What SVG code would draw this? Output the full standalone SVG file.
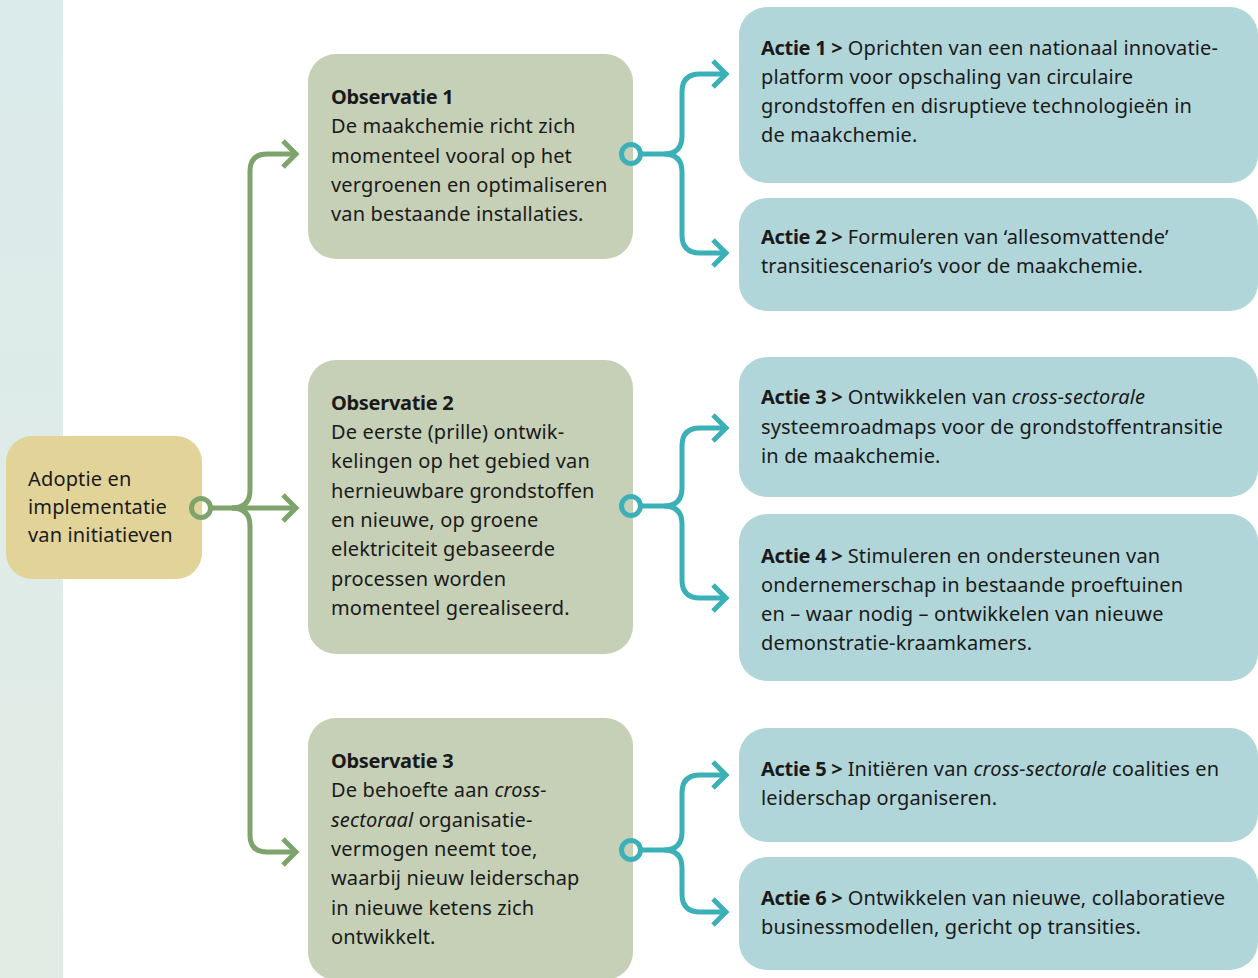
<svg xmlns="http://www.w3.org/2000/svg" width="1258" height="978" viewBox="0 0 1258 978">
<defs>
<linearGradient id="strip" x1="0" y1="0" x2="0" y2="1">
<stop offset="0" stop-color="#dbebeb"/>
<stop offset="1" stop-color="#e2ece5"/>
</linearGradient>
</defs>
<style>
text{font-family:"Noto Sans","Open Sans","DejaVu Sans",sans-serif;font-size:20px;letter-spacing:0.15px;fill:#1a1a1a}
.b{font-weight:bold;letter-spacing:-0.3px}
.i{font-style:italic}
.obs{fill:#c6d0b6}
.act{fill:#b0d6d9}
.root{fill:#e2d398}
.g{fill:none;stroke:#7fa36c;stroke-width:5}
.t{fill:none;stroke:#3bb0b6;stroke-width:5}
</style>
<rect x="0" y="0" width="63" height="978" fill="url(#strip)"/>

<g id="root">
<rect class="root" x="6" y="436" width="196" height="143" rx="26"/>
<text x="28" y="486">Adoptie en</text>
<text x="28" y="514">implementatie</text>
<text x="28" y="542">van initiatieven</text>
</g>

<g id="obs1">
<rect class="obs" x="308" y="54" width="325" height="205" rx="28"/>
<text x="331" y="104" class="b">Observatie 1</text>
<text x="331" y="133">De maakchemie richt zich</text>
<text x="331" y="163">momenteel vooral op het</text>
<text x="331" y="192">vergroenen en optimaliseren</text>
<text x="331" y="221">van bestaande installaties.</text>
</g>

<g id="obs2">
<rect class="obs" x="308" y="360" width="325" height="294" rx="28"/>
<text x="331" y="410" class="b">Observatie 2</text>
<text x="331" y="439">De eerste (prille) ontwik-</text>
<text x="331" y="468">kelingen op het gebied van</text>
<text x="331" y="498">hernieuwbare grondstoffen</text>
<text x="331" y="527">en nieuwe, op groene</text>
<text x="331" y="556">elektriciteit gebaseerde</text>
<text x="331" y="586">processen worden</text>
<text x="331" y="615">momenteel gerealiseerd.</text>
</g>

<g id="obs3">
<rect class="obs" x="308" y="718" width="325" height="262" rx="28"/>
<text x="331" y="768" class="b">Observatie 3</text>
<text x="331" y="797">De behoefte aan <tspan class="i">cross-</tspan></text>
<text x="331" y="827"><tspan class="i">sectoraal</tspan> organisatie-</text>
<text x="331" y="856">vermogen neemt toe,</text>
<text x="331" y="885">waarbij nieuw leiderschap</text>
<text x="331" y="915">in nieuwe ketens zich</text>
<text x="331" y="944">ontwikkelt.</text>
</g>

<g id="actie1">
<rect class="act" x="739" y="7" width="519" height="176" rx="28"/>
<text x="761" y="55"><tspan class="b">Actie 1 &gt;</tspan> Oprichten van een nationaal innovatie-</text>
<text x="761" y="84">platform voor opschaling van circulaire</text>
<text x="761" y="113">grondstoffen en disruptieve technologieën in</text>
<text x="761" y="142">de maakchemie.</text>
</g>

<g id="actie2">
<rect class="act" x="739" y="198" width="519" height="113" rx="28"/>
<text x="761" y="244"><tspan class="b">Actie 2 &gt;</tspan> Formuleren van ‘allesomvattende’</text>
<text x="761" y="273">transitiescenario’s voor de maakchemie.</text>
</g>

<g id="actie3">
<rect class="act" x="739" y="357" width="519" height="140" rx="28"/>
<text x="761" y="404"><tspan class="b">Actie 3 &gt;</tspan> Ontwikkelen van <tspan class="i">cross-sectorale</tspan></text>
<text x="761" y="434">systeemroadmaps voor de grondstoffentransitie</text>
<text x="761" y="463">in de maakchemie.</text>
</g>

<g id="actie4">
<rect class="act" x="739" y="514" width="519" height="167" rx="28"/>
<text x="761" y="563"><tspan class="b">Actie 4 &gt;</tspan> Stimuleren en ondersteunen van</text>
<text x="761" y="592">ondernemerschap in bestaande proeftuinen</text>
<text x="761" y="621">en – waar nodig – ontwikkelen van nieuwe</text>
<text x="761" y="650">demonstratie-kraamkamers.</text>
</g>

<g id="actie5">
<rect class="act" x="739" y="728" width="519" height="114" rx="28"/>
<text x="761" y="776"><tspan class="b">Actie 5 &gt;</tspan> Initiëren van <tspan class="i">cross-sectorale</tspan> coalities en</text>
<text x="761" y="805">leiderschap organiseren.</text>
</g>

<g id="actie6">
<rect class="act" x="739" y="857" width="519" height="113" rx="28"/>
<text x="761" y="905"><tspan class="b">Actie 6 &gt;</tspan> Ontwikkelen van nieuwe, collaboratieve</text>
<text x="761" y="934">businessmodellen, gericht op transities.</text>
</g>

<g id="connectors">
<circle class="g" cx="201" cy="508" r="9.5"/>
<path class="g" d="M211 508 H295"/>
<path class="g" d="M232 508 Q250 508 250 490 V171 Q250 154 267 154 H295"/>
<path class="g" d="M232 508 Q250 508 250 526 V835 Q250 852 267 852 H295"/>
<path class="g" d="M283 141 L296 154 L283 167"/>
<path class="g" d="M283 495 L296 508 L283 521"/>
<path class="g" d="M283 839 L296 852 L283 865"/>

<circle class="t" cx="631" cy="154" r="9.5"/>
<path class="t" d="M641 154 H664 Q682 154 682 136 V92 Q682 74 700 74 H725"/>
<path class="t" d="M664 154 Q682 154 682 172 V235 Q682 253 700 253 H725"/>
<path class="t" d="M713 61 L726 74 L713 87"/>
<path class="t" d="M713 240 L726 253 L713 266"/>

<circle class="t" cx="631" cy="506" r="9.5"/>
<path class="t" d="M641 506 H664 Q682 506 682 488 V446 Q682 428 700 428 H725"/>
<path class="t" d="M664 506 Q682 506 682 524 V580 Q682 598 700 598 H725"/>
<path class="t" d="M713 415 L726 428 L713 441"/>
<path class="t" d="M713 585 L726 598 L713 611"/>

<circle class="t" cx="631" cy="850" r="9.5"/>
<path class="t" d="M641 850 H664 Q682 850 682 832 V793 Q682 775 700 775 H725"/>
<path class="t" d="M664 850 Q682 850 682 868 V894 Q682 912 700 912 H725"/>
<path class="t" d="M713 762 L726 775 L713 788"/>
<path class="t" d="M713 899 L726 912 L713 925"/>
</g>
</svg>
